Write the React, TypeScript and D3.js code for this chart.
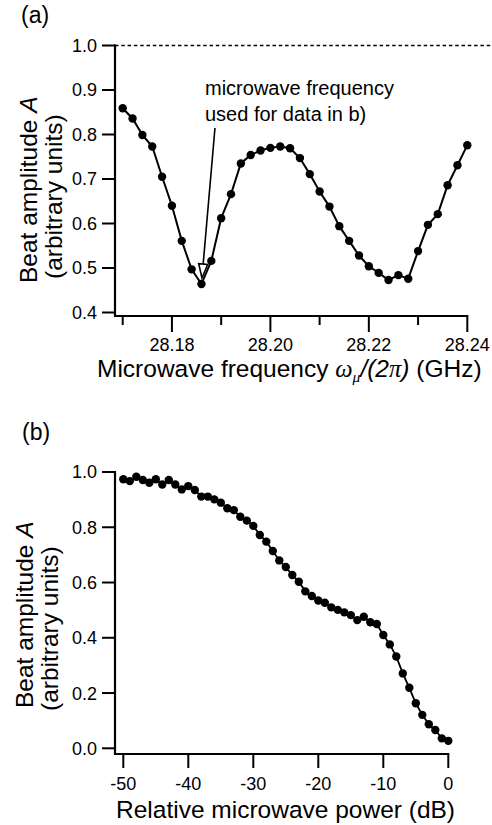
import React from "react";
import * as d3 from "d3";

// ---------- data ----------
const freqA = [
  28.17, 28.172, 28.174, 28.176, 28.178, 28.18, 28.182, 28.184, 28.186, 28.188,
  28.19, 28.192, 28.194, 28.196, 28.198, 28.2, 28.202, 28.204, 28.206, 28.208,
  28.21, 28.212, 28.214, 28.216, 28.218, 28.22, 28.222, 28.224, 28.226, 28.228,
  28.23, 28.232, 28.234, 28.236, 28.238, 28.24,
];
const ampA = [
  0.859, 0.836, 0.799, 0.773, 0.705, 0.64, 0.561, 0.497, 0.464, 0.516,
  0.612, 0.666, 0.735, 0.754, 0.764, 0.77, 0.773, 0.769, 0.747, 0.711,
  0.672, 0.638, 0.594, 0.561, 0.528, 0.504, 0.489, 0.473, 0.484, 0.476,
  0.538, 0.597, 0.621, 0.686, 0.731, 0.776,
];
const powerB = [
  -50, -49, -48, -47, -46, -45, -44, -43, -42, -41, -40, -39, -38, -37, -36,
  -35, -34, -33, -32, -31, -30, -29, -28, -27, -26, -25, -24, -23, -22, -21,
  -20, -19, -18, -17, -16, -15, -14, -13, -12, -11, -10, -9, -8, -7, -6, -5,
  -4, -3, -2, -1, 0,
];
const ampB = [
  0.974, 0.967, 0.983, 0.971, 0.961, 0.974, 0.955, 0.971, 0.955, 0.937, 0.949,
  0.935, 0.911, 0.911, 0.901, 0.889, 0.869, 0.862, 0.838, 0.824, 0.805, 0.772,
  0.748, 0.714, 0.68, 0.656, 0.627, 0.603, 0.568, 0.551, 0.535, 0.527, 0.51,
  0.501, 0.492, 0.482, 0.464, 0.476, 0.456, 0.45, 0.41, 0.376, 0.332, 0.271,
  0.219, 0.163, 0.121, 0.087, 0.066, 0.036, 0.027,
];
const aYTicks = [0.4, 0.5, 0.6, 0.7, 0.8, 0.9, 1.0];
const aXMajor = [28.18, 28.2, 28.22, 28.24];
const aXMinor = [28.17, 28.19, 28.21, 28.23];
const bYTicks = [0, 0.2, 0.4, 0.6, 0.8, 1.0];
const bXTicks = [-50, -40, -30, -20, -10, 0];
const markedFreq = 28.186;
const markedAmp = 0.464;

const SANS = "'Liberation Sans', Arial, Helvetica, sans-serif";
const SERIF = "'Liberation Serif', 'Times New Roman', serif";

export default function App() {
  // panel (a) scales
  const xA = d3.scaleLinear().domain([28.17, 28.24]).range([122.7, 467.3]);
  const yA = d3.scaleLinear().domain([0.4, 1.0]).range([312.5, 45.5]);
  const axisYA = 316;
  const axisXA = 115;
  // panel (b) scales
  const xB = d3.scaleLinear().domain([-50, 0]).range([123.3, 448.3]);
  const yB = d3.scaleLinear().domain([0, 1]).range([748.3, 472]);
  const axisYB = 754;
  const axisXB = 115;

  const ptsA = freqA.map((f, i) => [f, ampA[i]] as [number, number]);
  const ptsB = powerB.map((p, i) => [p, ampB[i]] as [number, number]);
  const lineA = d3
    .line<[number, number]>()
    .x((d) => xA(d[0]))
    .y((d) => yA(d[1]))(ptsA) as string;
  const lineB = d3
    .line<[number, number]>()
    .x((d) => xB(d[0]))
    .y((d) => yB(d[1]))(ptsB) as string;

  // arrow
  const tipX = xA(markedFreq) + 0.5;
  const tipY = yA(markedAmp) - 6;
  const startX = tipX + 13;
  const startY = 128;
  const ang = Math.atan2(tipY - startY, tipX - startX);
  const headLen = 14;
  const headHalf = 4.5;
  const bx = tipX - headLen * Math.cos(ang);
  const by = tipY - headLen * Math.sin(ang);
  const px = -Math.sin(ang);
  const py = Math.cos(ang);
  const head = `M${tipX},${tipY}L${bx + px * headHalf},${by + py * headHalf}L${bx - px * headHalf},${by - py * headHalf}Z`;

  const tickFont = 18;
  const titleFont = 24.5;

  return (
    <svg
      width={492}
      height={825}
      style={{ position: "absolute", left: 0, top: 0, background: "#fff" }}
      fontFamily={SANS}
    >
      <rect x={0} y={0} width={492} height={825} fill="#fff" />
      {/* ===== Panel (a) ===== */}
      <text x={21} y={23} fontSize={23}>(a)</text>
      <line
        x1={axisXA}
        x2={492}
        y1={yA(1.0)}
        y2={yA(1.0)}
        stroke="#000"
        strokeWidth={1.6}
        strokeDasharray="3.5,2.8"
      />
      {/* axes */}
      <line x1={axisXA} x2={axisXA} y1={yA(1.0) - 1} y2={axisYA + 1} stroke="#000" strokeWidth={2.2} />
      <line x1={axisXA - 1} x2={xA(28.24) + 1} y1={axisYA} y2={axisYA} stroke="#000" strokeWidth={2.2} />
      {aYTicks.map((t) => (
        <g key={"ay" + t}>
          <line x1={axisXA - 13} x2={axisXA} y1={yA(t)} y2={yA(t)} stroke="#000" strokeWidth={2} />
          <text x={axisXA - 18} y={yA(t)} dy="0.36em" fontSize={tickFont} textAnchor="end">
            {t.toFixed(1)}
          </text>
        </g>
      ))}
      {aXMajor.map((t) => (
        <g key={"axM" + t}>
          <line x1={xA(t)} x2={xA(t)} y1={axisYA} y2={axisYA + 16} stroke="#000" strokeWidth={2} />
          <text x={xA(t)} y={351} fontSize={tickFont} textAnchor="middle">
            {t.toFixed(2)}
          </text>
        </g>
      ))}
      {aXMinor.map((t) => (
        <line key={"axm" + t} x1={xA(t)} x2={xA(t)} y1={axisYA} y2={axisYA + 9} stroke="#000" strokeWidth={2} />
      ))}
      <text x={97} y={377} fontSize={titleFont}>
        Microwave frequency{" "}
        <tspan fontFamily={SERIF} fontStyle="italic">ω</tspan>
        <tspan fontFamily={SERIF} fontStyle="italic" fontSize={15.5} dy={5}>μ</tspan>
        <tspan fontStyle="italic" dy={-5}>/(2</tspan>
        <tspan fontFamily={SERIF} fontStyle="italic">π</tspan>
        <tspan fontStyle="italic">)</tspan> (GHz)
      </text>
      <text transform={`translate(37,283) rotate(-90)`} fontSize={titleFont}>
        Beat amplitude <tspan fontStyle="italic">A</tspan>
      </text>
      <text transform={`translate(62,279) rotate(-90)`} fontSize={titleFont}>
        (arbitrary units)
      </text>
      {/* data */}
      <path d={lineA} fill="none" stroke="#000" strokeWidth={2} />
      {ptsA.map((d, i) => (
        <circle key={"pa" + i} cx={xA(d[0])} cy={yA(d[1])} r={4.2} fill="#000" />
      ))}
      {/* annotation */}
      <text x={205} y={95} fontSize={20}>microwave frequency</text>
      <text x={205} y={121} fontSize={20}>used for data in b)</text>
      <line x1={startX} y1={startY} x2={bx} y2={by} stroke="#000" strokeWidth={1.6} />
      <path d={head} fill="#fff" stroke="#000" strokeWidth={1.6} strokeLinejoin="miter" />

      {/* ===== Panel (b) ===== */}
      <text x={22} y={440} fontSize={23}>(b)</text>
      <line x1={axisXB} x2={axisXB} y1={yB(1.0) - 1} y2={axisYB + 1} stroke="#000" strokeWidth={2.2} />
      <line x1={axisXB - 1} x2={xB(0) + 1} y1={axisYB} y2={axisYB} stroke="#000" strokeWidth={2.2} />
      {bYTicks.map((t) => (
        <g key={"by" + t}>
          <line x1={axisXB - 13} x2={axisXB} y1={yB(t)} y2={yB(t)} stroke="#000" strokeWidth={2} />
          <text x={axisXB - 18} y={yB(t)} dy="0.36em" fontSize={tickFont} textAnchor="end">
            {t.toFixed(1)}
          </text>
        </g>
      ))}
      {bXTicks.map((t) => (
        <g key={"bx" + t}>
          <line x1={xB(t)} x2={xB(t)} y1={axisYB} y2={axisYB + 14} stroke="#000" strokeWidth={2} />
          <text x={xB(t)} y={790} fontSize={tickFont} textAnchor="middle">
            {t}
          </text>
        </g>
      ))}
      <text x={116} y={818} fontSize={titleFont}>
        Relative microwave power (dB)
      </text>
      <text transform={`translate(33,708) rotate(-90)`} fontSize={titleFont}>
        Beat amplitude <tspan fontStyle="italic">A</tspan>
      </text>
      <text transform={`translate(58,711) rotate(-90)`} fontSize={titleFont}>
        (arbitrary units)
      </text>
      <path d={lineB} fill="none" stroke="#000" strokeWidth={1.8} />
      {ptsB.map((d, i) => (
        <circle key={"pb" + i} cx={xB(d[0])} cy={yB(d[1])} r={4.2} fill="#000" />
      ))}
    </svg>
  );
}
